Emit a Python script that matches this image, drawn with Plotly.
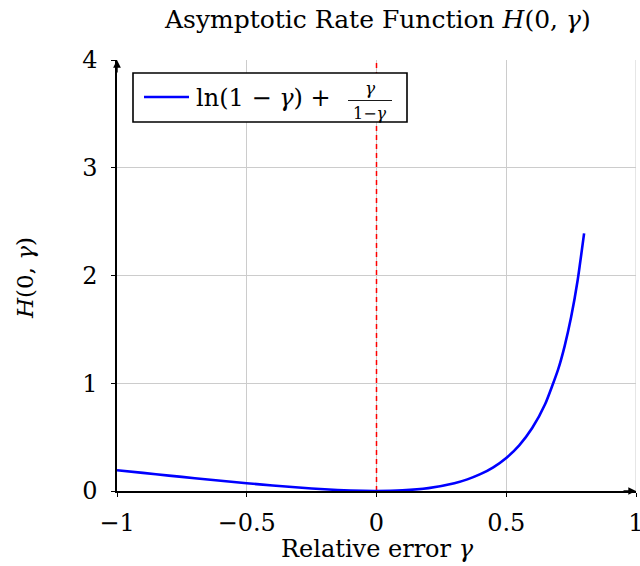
import plotly.graph_objects as go

# Curve values: H(0, gamma) vs gamma
gamma = [-1.0, -0.9, -0.8, -0.7, -0.6, -0.5, -0.4, -0.3, -0.2, -0.1, 0.0,
         0.1, 0.2, 0.3, 0.35, 0.4, 0.45, 0.5, 0.55, 0.6, 0.65, 0.7, 0.725, 0.75, 0.775, 0.8]
h_val = [0.193, 0.168, 0.143, 0.119, 0.095, 0.072, 0.051, 0.032, 0.016, 0.004, 0.0,
         0.006, 0.027, 0.072, 0.108, 0.156, 0.220, 0.307, 0.424, 0.584, 0.807, 1.129,
         1.345, 1.614, 1.953, 2.391]

x_ticks = [-1, -0.5, 0, 0.5, 1]
x_ticktext = ["\u22121", "\u22120.5", "0", "0.5", "1"]
y_ticks = [0, 1, 2, 3, 4]
y_ticktext = ["0", "1", "2", "3", "4"]

ref_x = [0, 0]
ref_y = [0, 4]

FONT = "DejaVu Serif"

fig = go.Figure()
fig.add_trace(go.Scatter(x=ref_x, y=ref_y, mode="lines",
                         line=dict(color="#ff0000", width=1.5, dash="5px,4px"),
                         showlegend=False, hoverinfo="skip"))
fig.add_trace(go.Scatter(x=gamma, y=h_val, mode="lines",
                         line=dict(color="#0000ff", width=2.6, shape="spline", smoothing=0.5),
                         showlegend=False, cliponaxis=False))

# plot area: x 117..636, y 60..491
L, R, T, B = 117, 636, 60, 491
W, H = R - L, B - T

def px(xp):
    return (xp - L) / W

def py(yp):
    return (B - yp) / H

shapes = [
    # grid line at the right edge (x = 1)
    dict(type="line", xref="x", yref="y", x0=x_ticks[-1], x1=x_ticks[-1], y0=y_ticks[0], y1=y_ticks[-1],
         line=dict(color="#cccccc", width=1), layer="below"),
    # legend box
    dict(type="rect", xref="paper", yref="paper", x0=px(133), x1=px(407), y0=py(122), y1=py(73),
         line=dict(color="black", width=1.6), fillcolor="white", layer="above"),
    dict(type="line", xref="paper", yref="paper", x0=px(144), x1=px(189), y0=py(97), y1=py(97),
         line=dict(color="#0000ff", width=2.6), layer="above"),
    # fraction bar
    dict(type="line", xref="paper", yref="paper", x0=px(348), x1=px(392), y0=py(100.5), y1=py(100.5),
         line=dict(color="black", width=0.9), layer="above"),
]

annotations = [
    dict(xref="paper", yref="paper", x=px(194), y=py(98), xanchor="left", yanchor="middle",
         text="ln(1 \u2212 <i>\u03b3</i>) +", showarrow=False,
         font=dict(family=FONT, size=24, color="black")),
    dict(xref="paper", yref="paper", x=px(370), y=py(99.5), xanchor="center", yanchor="bottom",
         text="<i>\u03b3</i>", showarrow=False, font=dict(family=FONT, size=17, color="black")),
    dict(xref="paper", yref="paper", x=px(370), y=py(101.5), xanchor="center", yanchor="top",
         text="1\u2212<i>\u03b3</i>", showarrow=False, font=dict(family=FONT, size=16, color="black")),
    # title
    dict(xref="paper", yref="paper", x=px(377), y=py(20), xanchor="center", yanchor="middle",
         text="Asymptotic Rate Function <i>H</i>(0, <i>\u03b3</i>)", showarrow=False,
         font=dict(family=FONT, size=25, color="black")),
    # x axis title
    dict(xref="paper", yref="paper", x=px(377), y=py(549), xanchor="center", yanchor="middle",
         text="Relative error <i>\u03b3</i>", showarrow=False,
         font=dict(family=FONT, size=24, color="black")),
    # y axis title
    dict(xref="paper", yref="paper", x=px(25), y=py(278), xanchor="center", yanchor="middle",
         text="<i>H</i>(0, <i>\u03b3</i>)", showarrow=False, textangle=-90,
         font=dict(family=FONT, size=23, color="black")),
    # axis arrows
    dict(xref="x", yref="y", x=1.0, y=0, ax=-14, ay=0, text="", showarrow=True,
         arrowhead=2, arrowsize=1.1, arrowwidth=1.4, arrowcolor="black"),
    dict(xref="x", yref="y", x=-1, y=4.0, ax=0, ay=14, text="", showarrow=True,
         arrowhead=2, arrowsize=1.1, arrowwidth=1.4, arrowcolor="black"),
]

axis_common = dict(
    showgrid=True, gridcolor="#cccccc", gridwidth=1,
    showline=True, linecolor="black", linewidth=1.5,
    ticks="outside", ticklen=4, tickcolor="black", tickwidth=1,
    zeroline=False, layer="below traces", automargin=False,
    ticklabeloverflow="allow",
    tickfont=dict(family=FONT, size=24, color="black"),
)

fig.update_layout(
    width=640, height=566,
    margin=dict(l=L, r=640 - R, t=T, b=566 - B, pad=0, autoexpand=False),
    plot_bgcolor="white", paper_bgcolor="white",
    shapes=shapes, annotations=annotations,
    xaxis=dict(range=[-1, 1], tickvals=x_ticks, ticktext=x_ticktext,
               ticklabelstandoff=5, **axis_common),
    yaxis=dict(range=[0, 4], tickvals=y_ticks, ticktext=y_ticktext,
               ticklabelstandoff=9, **axis_common),
    showlegend=False,
)

fig.write_html("out.html")
